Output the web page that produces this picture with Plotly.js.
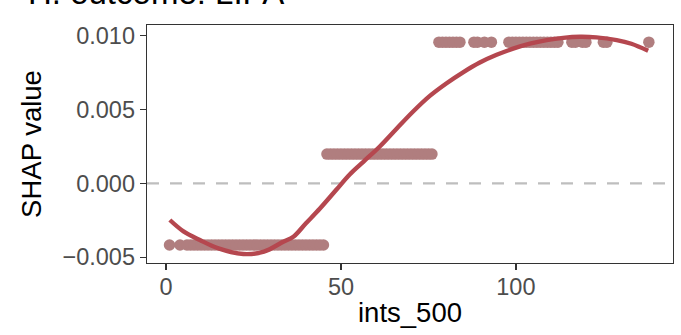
<!DOCTYPE html>
<html>
<head>
<meta charset="utf-8">
<script src="https://cdn.plot.ly/plotly-3.0.1.min.js"></script>
<style>html,body{margin:0;padding:0;background:#fff;}#chart{width:681px;height:335px;}</style>
</head>
<body>
<div id="chart"></div>
<script>
// SHAP dependence points (ints_500 vs SHAP value)
const lowX = [1, 4, 6, 7, 8, 9, 10, 11, 12, 13, 14, 15, 16, 17, 18, 19, 20, 21, 22, 23, 24, 25, 26, 27, 28, 29, 30, 31, 32, 33, 34, 35, 36, 37, 38, 39, 40, 41, 42, 43, 44, 45];
const lowY = -0.00417;
const midX = [46, 47, 48, 49, 50, 51, 52, 53, 54, 55, 56, 57, 58, 59, 60, 61, 62, 63, 64, 65, 66, 67, 68, 69, 70, 71, 72, 73, 74, 75, 76];
const midY = 0.00198;
const highX = [78, 79, 80, 81, 82, 83, 84, 88, 89, 91, 93, 98, 99, 100, 101, 102, 103, 104, 105, 106, 107, 108, 109, 110, 111, 112, 116, 117, 119, 120, 125, 126, 138];
const highY = 0.00956;

// Smoothed (loess) fit
const fitX = [1.1, 5, 9.7, 15, 22.1, 28, 33.5, 36.4, 40, 44, 48.8, 52.5, 56.4, 61.1, 65.9, 70.7, 75.4, 80.2, 84.9, 89.7, 94.5, 99.2, 104, 108.8, 113.5, 118.3, 123, 128.8, 133, 137.8];
const fitY = [-0.00248, -0.00325, -0.00384, -0.00440, -0.00478, -0.00462, -0.00395, -0.00361, -0.00270, -0.00170, -0.00040, 0.00060, 0.00146, 0.00250, 0.00370, 0.00488, 0.00592, 0.00678, 0.00752, 0.00818, 0.00870, 0.00912, 0.00946, 0.00970, 0.00985, 0.00992, 0.00988, 0.00970, 0.00945, 0.00897];

const yTicks = [-0.005, 0, 0.005, 0.010];
const xTicks = [0, 50, 100];

const allX = lowX.concat(midX, highX);
const allY = lowX.map(() => lowY).concat(midX.map(() => midY), highX.map(() => highY));

const font = 'Liberation Sans, Arial, Helvetica, sans-serif';

const traces = [
  {
    x: allX, y: allY, type: 'scatter', mode: 'markers',
    marker: {color: '#B07E7F', size: 11.5, line: {width: 0}},
    hoverinfo: 'skip', showlegend: false
  },
  {
    x: fitX, y: fitY, type: 'scatter', mode: 'lines',
    line: {color: '#B5474F', width: 4.4, shape: 'spline', smoothing: 1},
    hoverinfo: 'skip', showlegend: false
  }
];

const axisCommon = {
  showline: true, mirror: true, linecolor: '#333333', linewidth: 1.3,
  ticks: 'outside', ticklen: 6, tickwidth: 1.3, tickcolor: '#333333',
  showgrid: false, zeroline: false,
  tickfont: {family: font, size: 23.5, color: '#4D4D4D'}
};

const layout = {
  width: 681, height: 335,
  margin: {l: 147, r: 8, t: 25, b: 72},
  paper_bgcolor: '#ffffff', plot_bgcolor: '#ffffff',
  font: {family: font},
  title: {
    text: 'H. outcome: LIPA',
    font: {family: font, size: 33, color: '#000000'},
    x: 28 / 681, xanchor: 'left', xref: 'container',
    y: 1 - 4 / 335, yanchor: 'bottom', yref: 'container'
  },
  xaxis: Object.assign({}, axisCommon, {
    range: [-5.43, 144.9], tickvals: xTicks, ticklabelstandoff: -4,
    title: {text: 'ints_500', font: {family: font, size: 27.5, color: '#000000'}, standoff: 4}
  }),
  yaxis: Object.assign({}, axisCommon, {
    range: [-0.00539, 0.01072], tickvals: yTicks, tickformat: '.3f',
    title: {text: 'SHAP value', font: {family: font, size: 27.5, color: '#000000'}, standoff: 12}
  }),
  shapes: [{
    type: 'line', xref: 'paper', x0: 0, x1: 1, yref: 'y', y0: 0, y1: 0,
    line: {color: '#BEBEBE', width: 2.2, dash: '12px,11px'}, layer: 'below'
  }]
};

Plotly.newPlot('chart', traces, layout, {displayModeBar: false, staticPlot: true});
</script>
</body>
</html>
